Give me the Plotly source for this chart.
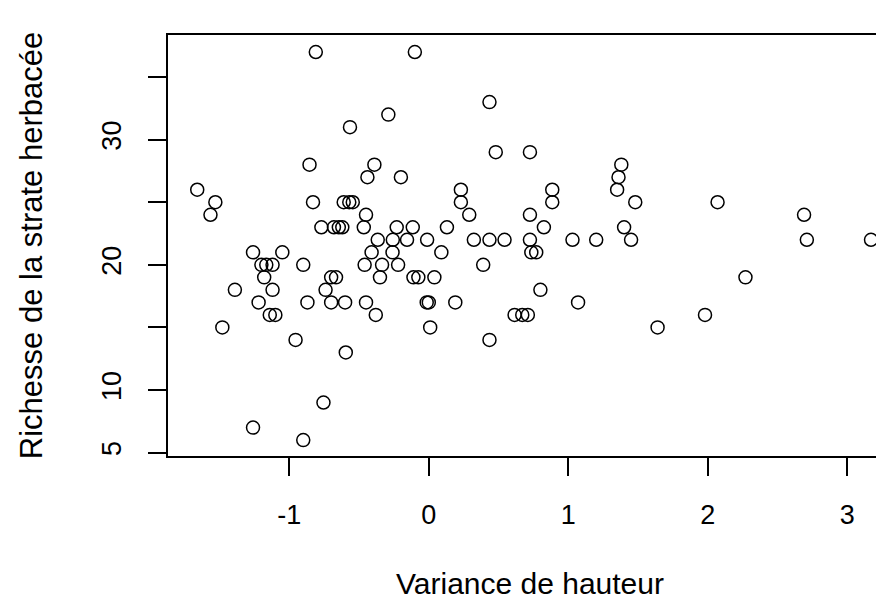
import plotly.graph_objects as go

# Variance de hauteur (x) and richesse de la strate herbacee (y)
variance = [-0.81, -0.10, 0.435, -0.29, -0.565, 0.48, 0.725, -0.855, -0.39, 1.38,
            -0.44, -0.20, 1.36, -1.66, 0.23, 0.885, 1.35,
            -1.53, -0.83, -0.61, -0.57, -0.545, 0.23, 0.885, 1.48, 2.07,
            -1.565, -0.45, 0.29, 0.725, 2.69,
            -0.77, -0.68, -0.645, -0.62, -0.466, -0.23, -0.115, 0.13, 0.825, 1.40,
            -0.366, -0.258, -0.156, -0.012, 0.323, 0.435, 0.543, 0.725, 1.03, 1.20, 1.45, 2.71, 3.17,
            -1.26, -1.05, -0.41, -0.26, 0.09, 0.735, 0.77,
            -1.20, -1.165, -1.12, -0.90, -0.46, -0.335, -0.22, 0.39,
            -1.18, -0.70, -0.665, -0.35, -0.11, -0.075, 0.04, 2.27,
            -1.39, -1.12, -0.74, 0.80,
            -1.22, -0.87, -0.70, -0.60, -0.45, -0.015, 0.0, 0.19, 1.07,
            -1.14, -1.10, -0.38, 0.615, 0.67, 0.71, 1.98,
            -1.48, 0.01, 1.64,
            -0.955, 0.435,
            -0.595, -0.755, -1.26, -0.90]
richesse = [37, 37, 33, 32, 31, 29, 29, 28, 28, 28,
            27, 27, 27, 26, 26, 26, 26,
            25, 25, 25, 25, 25, 25, 25, 25, 25,
            24, 24, 24, 24, 24,
            23, 23, 23, 23, 23, 23, 23, 23, 23, 23,
            22, 22, 22, 22, 22, 22, 22, 22, 22, 22, 22, 22, 22,
            21, 21, 21, 21, 21, 21, 21,
            20, 20, 20, 20, 20, 20, 20, 20,
            19, 19, 19, 19, 19, 19, 19, 19,
            18, 18, 18, 18,
            17, 17, 17, 17, 17, 17, 17, 17, 17,
            16, 16, 16, 16, 16, 16, 16,
            15, 15, 15,
            14, 14,
            13, 9, 7, 6]

x_ticks = [-1, 0, 1, 2, 3]
x_tick_labels = ["-1", "0", "1", "2", "3"]
y_ticks = [5, 10, 15, 20, 25, 30, 35]
y_tick_labels = ["5", "10", "", "20", "", "30", ""]

font_family = "Liberation Sans, Arial, sans-serif"

fig = go.Figure()
fig.add_trace(go.Scatter(x=variance, y=richesse, mode="markers",
                         marker=dict(symbol="circle-open", size=13, color="black",
                                     line=dict(width=1.5)),
                         showlegend=False))

fig.update_xaxes(range=[-1.8695, 3.3204], tickvals=x_ticks, ticktext=x_tick_labels,
                 ticks="outside", ticklen=18, tickwidth=1.5, tickcolor="black",
                 ticklabelstandoff=16, automargin=False,
                 showline=True, linewidth=1.5, linecolor="black", mirror=True,
                 showgrid=False, zeroline=False,
                 tickfont=dict(size=27, color="black", family=font_family),
                 title=dict(text="Variance de hauteur", standoff=44,
                            font=dict(size=30, color="black", family=font_family)))
fig.update_yaxes(range=[4.728, 38.36], tickvals=y_ticks, ticktext=y_tick_labels,
                 tickangle=-90, ticks="outside", ticklen=18, tickwidth=1.5,
                 tickcolor="black", ticklabelstandoff=16, automargin=False,
                 showline=True, linewidth=1.5, linecolor="black",
                 showgrid=False, zeroline=False,
                 tickfont=dict(size=27, color="black", family=font_family),
                 title=dict(text="Richesse de la strate herbacée", standoff=46,
                            font=dict(size=31, color="black", family=font_family)))

fig.update_layout(width=884, height=601,
                  margin=dict(l=160, r=0, t=27, b=153),
                  plot_bgcolor="white", paper_bgcolor="white")

fig.write_html("out.html")
